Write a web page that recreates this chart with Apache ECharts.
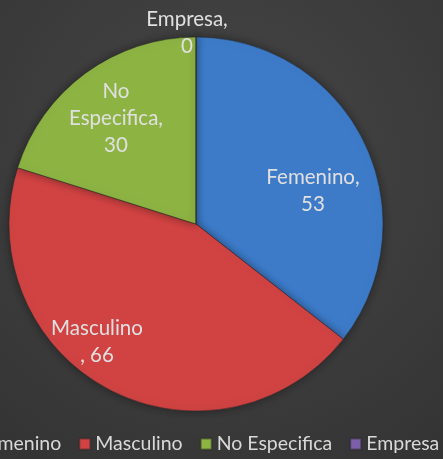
<!DOCTYPE html>
<html>
<head>
<meta charset="utf-8">
<script src="https://cdn.jsdelivr.net/npm/echarts@6/dist/echarts.min.js"></script>
<style>
  html, body { margin: 0; padding: 0; }
  #main { width: 443px; height: 459px; }
</style>
</head>
<body>
<div id="main"></div>
<script>
// datos del grafico
const categorias = ["Femenino", "Masculino", "No Especifica", "Empresa"];
const valores = [53, 66, 30, 0];
const etiquetas = ["Femenino,\n53", "Masculino\n, 66", "No\nEspecifica,\n30", "Empresa,\n0"];
const colores = ["#3d7bc9", "#d14343", "#8db443", "#7b5fa8"];

// posicion de cada etiqueta (estilo Excel)
const posEtiquetas = [[313, 191], [97, 342], [116, 118], [187, 33]];

const chart = echarts.init(document.getElementById("main"));

const fuente = "Lato";

const option = {
  backgroundColor: {
    type: "radial", x: 0.5, y: 0.35, r: 0.85,
    colorStops: [
      { offset: 0, color: "#474747" },
      { offset: 1, color: "#333333" }
    ]
  },
  legend: {
    bottom: 0,
    left: -45,
    width: 600,
    itemWidth: 11,
    itemHeight: 11,
    itemGap: 17,
    icon: "rect",
    textStyle: { color: "#d9d9d9", fontSize: 19.5, fontFamily: fuente },
    data: categorias
  },
  series: [
    {
      type: "pie",
      center: [196, 224],
      radius: 187,
      startAngle: 90,
      clockwise: true,
      avoidLabelOverlap: false,
      itemStyle: {
        borderColor: "rgba(40,40,40,0.5)",
        borderWidth: 1,
        shadowBlur: 8,
        shadowColor: "rgba(0,0,0,0.4)"
      },
      label: {
        show: true,
        position: "inside",
        color: "#e0e0e0",
        fontSize: 20.5,
        fontFamily: fuente,
        lineHeight: 27,
        align: "center",
        formatter: (p) => etiquetas[p.dataIndex]
      },
      labelLayout: (p) => ({
        x: posEtiquetas[p.dataIndex][0],
        y: posEtiquetas[p.dataIndex][1],
        align: "center",
        verticalAlign: "middle"
      }),
      data: categorias.map((c, i) => ({
        name: c,
        value: valores[i],
        itemStyle: { color: colores[i] }
      }))
    }
  ]
};

chart.setOption(option);
</script>
</body>
</html>
